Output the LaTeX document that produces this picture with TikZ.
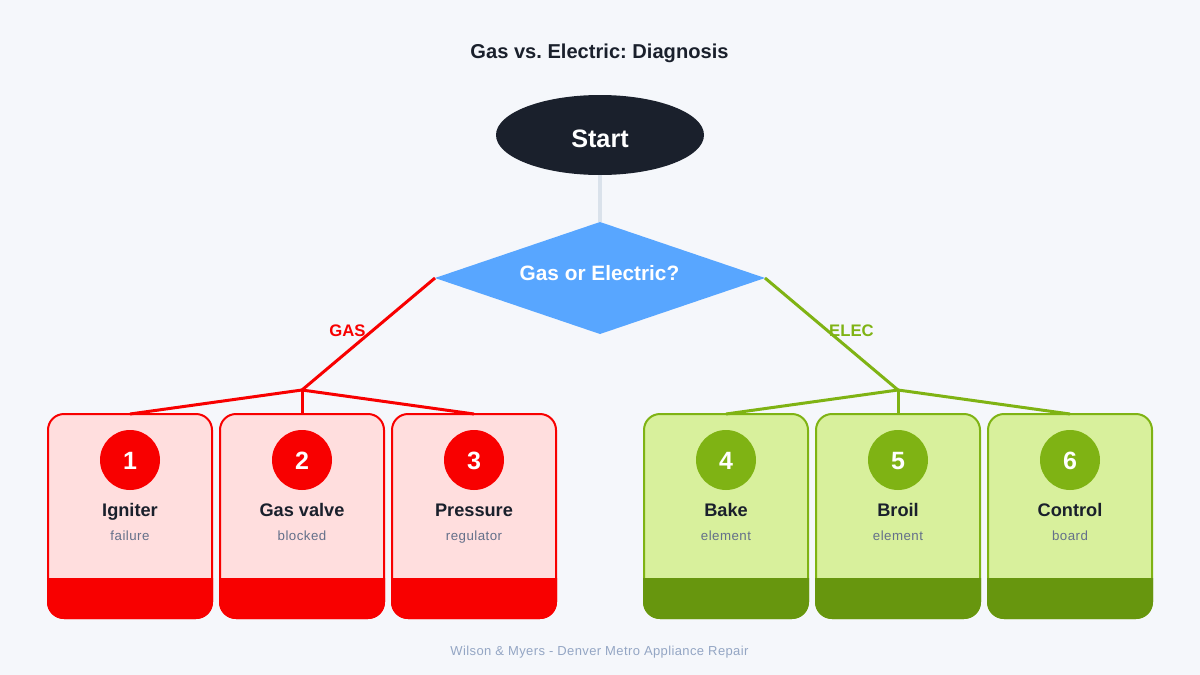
\documentclass[tikz,border=0pt]{standalone}
\usepackage{fontspec}
\setmainfont{Liberation Sans}
\newfontfamily\ls[LetterSpace=3.5]{Liberation Sans}
\newfontfamily\lsf[LetterSpace=3]{Liberation Sans}
\newfontfamily\lsb{Liberation Sans Bold}
\usetikzlibrary{shapes.geometric}
\definecolor{bgc}{HTML}{F5F7FB}
\definecolor{ink}{HTML}{1A202C}
\definecolor{greyline}{HTML}{DAE2EB}
\definecolor{bluec}{HTML}{58A6FF}
\definecolor{redc}{HTML}{F80000}
\definecolor{pinkc}{HTML}{FFDEDE}
\definecolor{greenc}{HTML}{7FB314}
\definecolor{limec}{HTML}{D8F09C}
\definecolor{darkgreen}{HTML}{67960E}
\definecolor{subc}{HTML}{64708A}
\definecolor{footc}{HTML}{94A6C4}
\newcommand{\fs}[1]{\fontsize{#1}{#1}\selectfont}
\frenchspacing
\tikzset{
 x=1pt,y=-1pt,
 txt/.style={inner sep=0pt,outer sep=0pt,anchor=base},
 cardbox/.style={draw=#1,line width=2pt,rounded corners=16pt,minimum width=164pt,minimum height=204pt,inner sep=0pt,outer sep=0pt,anchor=north west},
 numdisc/.style={circle,fill=#1,minimum size=60pt,inner sep=0pt,outer sep=0pt},
 numlabel/.style={txt,text=white,font=\lsb\fs{25}},
 namelabel/.style={txt,text=ink,font=\lsb\fs{18.2}},
 sublabel/.style={txt,text=subc,font=\ls\fs{13.3}},
 wire/.style={draw=#1,line width=3pt},
 branchlabel/.style={txt,text=#1,font=\lsb\fs{16.7}},
}
\newcommand{\card}[9]{% id x centre fill stroke band num name sub
 \node[cardbox=#5,fill=#4] (card#1) at (#2,414) {};
 \path[fill=#6,rounded corners=17pt] (#2-1,578) [sharp corners] -- (#2+165,578) [rounded corners=17pt] -- (#2+165,619) -- (#2-1,619) [sharp corners] -- cycle;
 \node[numdisc=#5] (disc#1) at (#3,460) {};
 \node[numlabel] (num#1) at (#3,469) {#7};
 \node[namelabel] (name#1) at (#3,516) {#8};
 \node[sublabel] (sub#1) at (#3,540) {#9};
}
\begin{document}
\begin{tikzpicture}
\useasboundingbox (0,0) rectangle (1200,675);
\fill[bgc] (0,0) rectangle (1200,675);
\node[txt,text=ink,font=\lsb\fs{20.1}] (title) at (599.5,58) {Gas vs. Electric: Diagnosis};
\node[ellipse,fill=ink,minimum width=208pt,minimum height=80pt,inner sep=0pt,outer sep=0pt] (start) at (600,135) {};
\node[txt,text=white,font=\lsb\fs{25.2}] (startlabel) at (600,147) {Start};
\node[diamond,aspect=2.95,fill=bluec,minimum width=330pt,minimum height=112pt,inner sep=0pt,outer sep=0pt] (dec) at (600,278) {};
\node[txt,text=white,font=\lsb\fs{20.8}] (declabel) at (599.5,280) {Gas or Electric?};
\draw[greyline,line width=4pt] (start) -- (dec);
\card{1}{48}{130}{pinkc}{redc}{redc}{1}{Igniter}{failure}
\card{2}{220}{302}{pinkc}{redc}{redc}{2}{Gas valve}{blocked}
\card{3}{392}{474}{pinkc}{redc}{redc}{3}{Pressure}{regulator}
\card{4}{644}{726}{limec}{greenc}{darkgreen}{4}{Bake}{element}
\card{5}{816}{898}{limec}{greenc}{darkgreen}{5}{Broil}{element}
\card{6}{988}{1070}{limec}{greenc}{darkgreen}{6}{Control}{board}
\coordinate (gasj) at (302,390);
\coordinate (elecj) at (898,390);
\draw[wire=redc] (dec.west) -- (gasj);
\draw[wire=redc] (gasj) -- (card1.north);
\draw[wire=redc] (gasj) -- (card2.north);
\draw[wire=redc] (gasj) -- (card3.north);
\draw[wire=greenc] (dec.east) -- (elecj);
\draw[wire=greenc] (elecj) -- (card4.north);
\draw[wire=greenc] (elecj) -- (card5.north);
\draw[wire=greenc] (elecj) -- (card6.north);
\node[branchlabel=redc] (gaslabel) at (347.5,336) {GAS};
\node[branchlabel=greenc] (eleclabel) at (851.5,336) {ELEC};
\node[txt,text=footc,font=\lsf\fs{13}] (foot) at (599.5,655) {Wilson \& Myers - Denver Metro Appliance Repair};
\end{tikzpicture}
\end{document}
